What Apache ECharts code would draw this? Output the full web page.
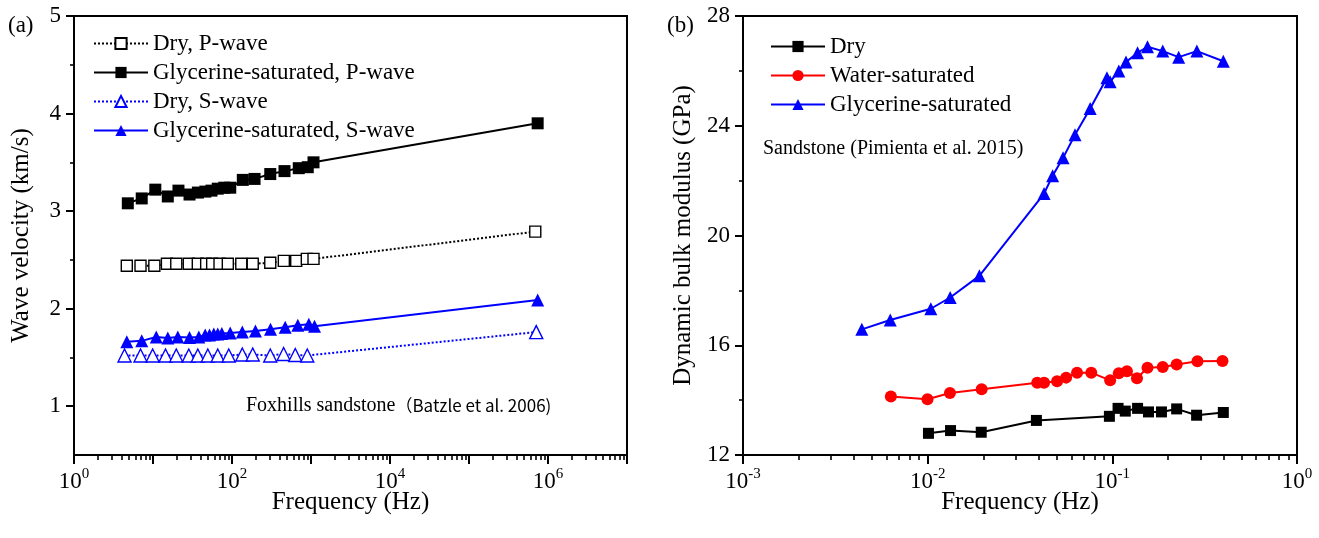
<!DOCTYPE html>
<html>
<head>
<meta charset="utf-8">
<script src="https://cdn.jsdelivr.net/npm/echarts@6/dist/echarts.min.js"></script>
<style>
  html, body { margin: 0; padding: 0; background: #fff; }
  #chart { width: 1319px; height: 538px; }
</style>
</head>
<body>
<div id="chart"></div>
<script>
// (a) Foxhills sandstone, wave velocity vs frequency
const dryPFreq = [4.66, 6.95, 10.4, 15, 19.7, 28.4, 36.9, 47.1, 56.1, 69.5, 88.5, 131, 183, 305, 453, 650, 885, 1076, 6.9e5]
const dryPVel = [2.44, 2.44, 2.44, 2.46, 2.46, 2.46, 2.46, 2.46, 2.46, 2.46, 2.46, 2.46, 2.46, 2.47, 2.49, 2.49, 2.51, 2.51, 2.79]
const glyPFreq = [4.8, 7.2, 10.7, 15.4, 21, 29, 37, 46, 55, 66, 80, 95, 137, 193, 305, 462, 700, 910, 1076, 7.4e5]
const glyPVel = [3.08, 3.13, 3.22, 3.15, 3.21, 3.17, 3.19, 3.2, 3.21, 3.23, 3.24, 3.24, 3.32, 3.33, 3.38, 3.41, 3.44, 3.45, 3.5, 3.9]
const drySFreq = [4.36, 6.95, 9.9, 14.4, 19.7, 28.4, 36.9, 49.4, 66, 91, 135, 183, 305, 450, 632, 897, 7.1e5]
const drySVel = [1.52, 1.52, 1.52, 1.52, 1.52, 1.52, 1.52, 1.52, 1.52, 1.52, 1.53, 1.53, 1.52, 1.535, 1.525, 1.52, 1.76]
const glySFreq = [4.66, 7.2, 11, 15.4, 20.6, 29, 38, 45.8, 51.9, 58.9, 66, 74.3, 94.9, 135, 198, 307, 471, 681, 938, 1107, 7.4e5]
const glySVel = [1.66, 1.67, 1.71, 1.7, 1.71, 1.705, 1.71, 1.73, 1.73, 1.74, 1.74, 1.745, 1.75, 1.76, 1.77, 1.79, 1.81, 1.83, 1.84, 1.82, 2.09]

// (b) Pimienta sandstone, bulk modulus vs frequency
const dryKFreq = [0.0101, 0.0133, 0.0195, 0.0388, 0.0964, 0.1074, 0.1175, 0.137, 0.157, 0.1845, 0.223, 0.286, 0.399]
const dryK = [12.79, 12.89, 12.83, 13.26, 13.41, 13.7, 13.6, 13.7, 13.57, 13.57, 13.68, 13.45, 13.55]
const waterKFreq = [0.00632, 0.00998, 0.0132, 0.0196, 0.0392, 0.0427, 0.0502, 0.0562, 0.0644, 0.0769, 0.0973, 0.1084, 0.12, 0.136, 0.155, 0.1875, 0.223, 0.289, 0.395]
const waterK = [14.13, 14.03, 14.26, 14.4, 14.63, 14.63, 14.69, 14.82, 15.0, 15.0, 14.72, 14.98, 15.05, 14.8, 15.18, 15.21, 15.3, 15.42, 15.43]
const glyKFreq = [0.0044, 0.00627, 0.0104, 0.01324, 0.01905, 0.0427, 0.0475, 0.0541, 0.0628, 0.0759, 0.0935, 0.0973, 0.1084, 0.1186, 0.137, 0.155, 0.1875, 0.2287, 0.287, 0.399]
const glyK = [16.58, 16.92, 17.33, 17.74, 18.53, 21.53, 22.18, 22.83, 23.67, 24.63, 25.75, 25.6, 26.0, 26.32, 26.66, 26.88, 26.72, 26.5, 26.72, 26.35]

// tick positions
const leftDecades = [1, 10, 100, 1e3, 1e4, 1e5, 1e6, 1e7]
const leftLabels = [1, 100, 1e4, 1e6]
const rightDecades = [0.001, 0.01, 0.1, 1]
const velMajor = [1, 2, 3, 4, 5]
const velMinor = [1.5, 2.5, 3.5, 4.5]
const modMajor = [12, 16, 20, 24, 28]
const modMinor = [14, 18, 22, 26]

const minorLog = (decades) => {
  const out = []
  for (let i = 0; i < decades.length - 1; i++) {
    for (let m = 2; m <= 9; m++) out.push(+(decades[i] * m).toPrecision(3))
  }
  return out
}

const zip = (xs, ys) => xs.map((x, i) => [x, ys[i]])

const SERIF = '"Liberation Serif", "Times New Roman", serif'

const powLabel = (v) => '{b|10}{s|' + Math.round(Math.log10(v)) + '}'
const powRich = {
  b: { fontSize: 23, fontFamily: SERIF, color: '#000', verticalAlign: 'bottom', lineHeight: 26 },
  s: { fontSize: 15, fontFamily: SERIF, color: '#000', verticalAlign: 'bottom', padding: [0, 0, 11, 0] },
}

const logAxis = (grid, min, max, majors, labels, name) => ({
  type: 'log',
  logBase: 10,
  gridIndex: grid,
  min,
  max,
  name,
  nameLocation: 'middle',
  nameGap: 35,
  nameMoveOverlap: false,
  nameTextStyle: { fontFamily: SERIF, fontSize: 25, color: '#000' },
  axisLine: { show: true, lineStyle: { color: '#000', width: 2 } },
  axisTick: { show: true, customValues: majors, length: 9, lineStyle: { color: '#000', width: 2 } },
  axisLabel: { customValues: labels, formatter: powLabel, rich: powRich, margin: 12 },
  splitLine: { show: false },
  minorTick: { show: false },
})

const minorLogAxis = (grid, min, max, ticks) => ({
  type: 'log',
  logBase: 10,
  gridIndex: grid,
  min,
  max,
  position: 'bottom',
  axisLine: { show: false },
  axisTick: { show: true, customValues: ticks, length: 5, lineStyle: { color: '#000', width: 1.6 } },
  axisLabel: { show: false },
  splitLine: { show: false },
})

const valAxis = (grid, min, max, majors, name, gap) => ({
  type: 'value',
  gridIndex: grid,
  min,
  max,
  position: 'left',
  name,
  nameLocation: 'middle',
  nameGap: gap,
  nameMoveOverlap: false,
  nameTextStyle: { fontFamily: SERIF, fontSize: 25, color: '#000' },
  axisLine: { show: true, lineStyle: { color: '#000', width: 2 } },
  axisTick: { show: true, customValues: majors, length: 8, lineStyle: { color: '#000', width: 2 } },
  axisLabel: { customValues: majors, fontFamily: SERIF, fontSize: 23, color: '#000', margin: 13 },
  splitLine: { show: false },
})

const minorValAxis = (grid, min, max, ticks) => ({
  type: 'value',
  gridIndex: grid,
  min,
  max,
  position: 'left',
  axisLine: { show: false },
  axisTick: { show: true, customValues: ticks, length: 4, lineStyle: { color: '#000', width: 1.6 } },
  axisLabel: { show: false },
  splitLine: { show: false },
})

const lineSeries = (name, data, xi, yi, opts) => ({
  name,
  type: 'line',
  xAxisIndex: xi,
  yAxisIndex: yi,
  data,
  symbol: opts.symbol,
  symbolSize: opts.size,
  showSymbol: true,
  animation: false,
  lineStyle: { color: opts.color, width: 2, type: opts.dash || 'solid' },
  itemStyle: opts.hollow
    ? { color: '#fff', borderColor: opts.color, borderWidth: 1.4 }
    : { color: opts.color, borderWidth: 0 },
  z: opts.z || 2,
})

const chart = echarts.init(document.getElementById('chart'), null, { renderer: 'canvas' })

chart.setOption({
  animation: false,
  backgroundColor: '#fff',
  grid: [
    { left: 74, right: 692, top: 16, bottom: 83, show: true, borderColor: '#000', borderWidth: 2 },
    { left: 743, right: 22, top: 16, bottom: 83, show: true, borderColor: '#000', borderWidth: 2 },
  ],
  xAxis: [
    logAxis(0, 1, 1e7, leftDecades, leftLabels, 'Frequency (Hz)'),
    minorLogAxis(0, 1, 1e7, minorLog(leftDecades)),
    logAxis(1, 0.001, 1, rightDecades, rightDecades, 'Frequency (Hz)'),
    minorLogAxis(1, 0.001, 1, minorLog(rightDecades)),
  ],
  yAxis: [
    valAxis(0, 0.5, 5, velMajor, 'Wave velocity (km/s)', 40),
    minorValAxis(0, 0.5, 5, velMinor),
    valAxis(1, 12, 28, modMajor, 'Dynamic bulk modulus (GPa)', 47),
    minorValAxis(1, 12, 28, modMinor),
  ],
  legend: [
    {
      left: 93,
      top: 32,
      padding: 0,
      orient: 'vertical',
      itemWidth: 54,
      itemHeight: 14,
      itemGap: 6,
      textStyle: { fontFamily: SERIF, fontSize: 23, lineHeight: 22, color: '#000' },
      data: ['Dry, P-wave', 'Glycerine-saturated, P-wave', 'Dry, S-wave', 'Glycerine-saturated, S-wave'],
    },
    {
      left: 770,
      top: 35,
      padding: 0,
      orient: 'vertical',
      itemWidth: 54,
      itemHeight: 14,
      itemGap: 6,
      textStyle: { fontFamily: SERIF, fontSize: 23, lineHeight: 22, color: '#000' },
      data: ['Dry', 'Water-saturated', 'Glycerine-saturated'],
    },
  ],
  graphic: [
    { type: 'text', left: 8, top: 14, style: { text: '(a)', font: '23px ' + SERIF, fill: '#000' } },
    { type: 'text', left: 667, top: 14, style: { text: '(b)', font: '23px ' + SERIF, fill: '#000' } },
    {
      type: 'text',
      left: 763,
      top: 139,
      style: { text: 'Sandstone (Pimienta et al. 2015)', font: '20px ' + SERIF, fill: '#000' },
    },
    {
      type: 'text',
      left: 246,
      top: 396,
      style: {
        text: '{a|Foxhills sandstone}{b|（Batzle et al. 2006)}',
        rich: {
          a: { fontFamily: SERIF, fontSize: 20, fill: '#000' },
          b: { fontFamily: '"Noto Sans CJK SC", "Noto Sans", sans-serif', fontSize: 17, fill: '#000' },
        },
      },
    },
  ],
  series: [
    lineSeries('Dry, P-wave', zip(dryPFreq, dryPVel), 0, 0, { symbol: 'rect', size: 11, color: '#000', dash: [2, 2], hollow: true }),
    lineSeries('Glycerine-saturated, P-wave', zip(glyPFreq, glyPVel), 0, 0, { symbol: 'rect', size: 12, color: '#000' }),
    lineSeries('Dry, S-wave', zip(drySFreq, drySVel), 0, 0, { symbol: 'triangle', size: 13, color: '#0000ff', dash: [2, 2], hollow: true }),
    lineSeries('Glycerine-saturated, S-wave', zip(glySFreq, glySVel), 0, 0, { symbol: 'triangle', size: 13, color: '#0000ff' }),
    lineSeries('Dry', zip(dryKFreq, dryK), 2, 2, { symbol: 'rect', size: 11, color: '#000' }),
    lineSeries('Water-saturated', zip(waterKFreq, waterK), 2, 2, { symbol: 'circle', size: 12, color: '#ff0000' }),
    lineSeries('Glycerine-saturated', zip(glyKFreq, glyK), 2, 2, { symbol: 'triangle', size: 13, color: '#0000ff' }),
  ],
})
</script>
</body>
</html>
